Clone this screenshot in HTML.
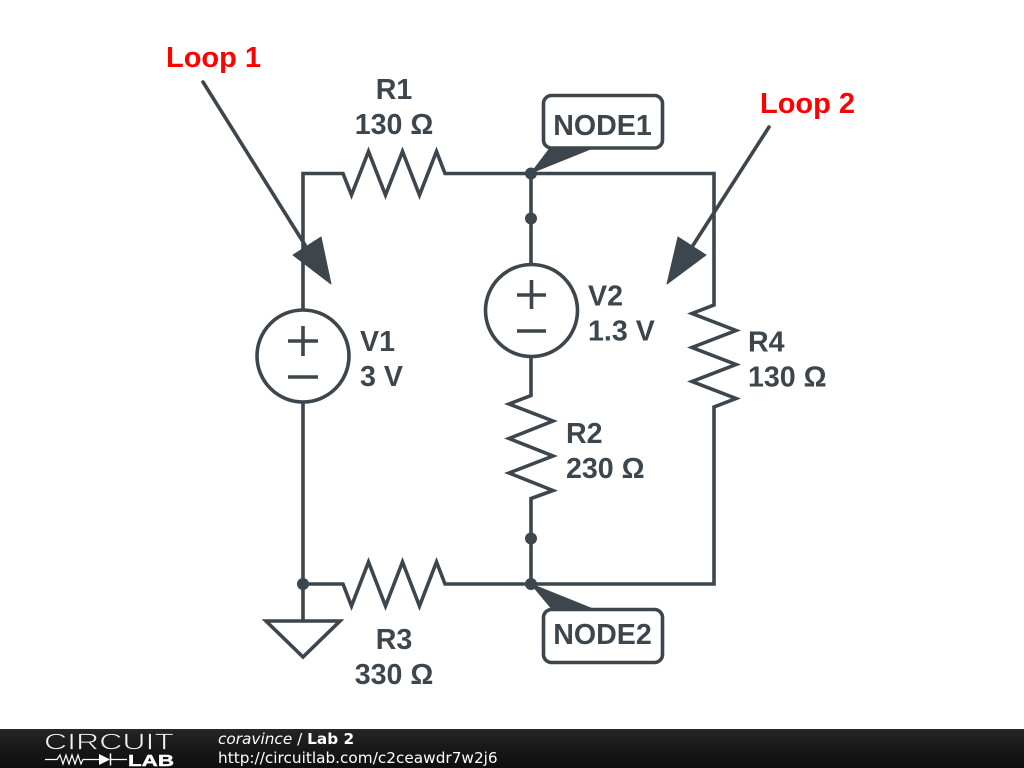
<!DOCTYPE html>
<html>
<head>
<meta charset="utf-8">
<style>
html,body{margin:0;padding:0;background:#fff;}
body{width:1024px;height:768px;overflow:hidden;position:relative;}
svg{position:absolute;left:0;top:0;display:block;}
.t{font-family:"Liberation Sans",sans-serif;font-weight:700;font-size:28.6px;fill:#3d464c;}
.r{font-family:"Liberation Sans",sans-serif;font-weight:700;font-size:29px;fill:#fe0000;}
.f{font-family:"DejaVu Sans",sans-serif;font-size:15.3px;fill:#fff;}
</style>
</head>
<body>
<svg width="1024" height="768" viewBox="0 0 1024 768" xmlns="http://www.w3.org/2000/svg">
<defs>
<linearGradient id="bar" x1="0" y1="0" x2="0" y2="1">
<stop offset="0" stop-color="#262626"/>
<stop offset="0.5" stop-color="#181818"/>
<stop offset="1" stop-color="#0e0e0e"/>
</linearGradient>
</defs>
<rect width="1024" height="768" fill="#fff"/>
<g fill="none" stroke="#3d464c" stroke-width="3.6" stroke-linejoin="miter" stroke-linecap="butt">
<path d="M303 310V173.5H343L351.5 195L368.5 151.5L385.5 195L402.5 151.5L419.5 195L436.5 151.5L445 173.5H714V305L692 313.5L736 330.5L692 347.5L736 364.5L692 381.5L736 398.5L714 407V584H445L436.5 562L419.5 606L402.5 562L385.5 606L368.5 562L351.5 606L343 584H303"/>
<path d="M303 402V621"/>
<path d="M531 173.5V264"/>
<path d="M531 357V395.5L509 404L553 421L509 438.5L553 456L509 473L553 490.5L531 498.5V584"/>
<circle cx="303" cy="356" r="46"/>
<path d="M288 341H318M303 326V356M288 377H318"/>
<circle cx="531.5" cy="310.5" r="46"/>
<path d="M517 295H546M531.5 280V309M517 331H546"/>
<path d="M266 621H340L303 657Z"/>
<rect x="543.5" y="95.5" width="119" height="52.5" rx="8"/>
<rect x="543.5" y="609.5" width="119" height="53" rx="8"/>
<path d="M203 82L305 245" stroke-linecap="round"/>
<path d="M769 127L690 250" stroke-linecap="round"/>
</g>
<g fill="#3d464c" stroke="#3d464c" stroke-width="1" stroke-linejoin="round">
<path d="M293 255L321 237L331 284Z"/>
<path d="M678 237L706 255L667 284Z"/>
<path d="M531 173L550 148H593Z"/>
<path d="M531 584L552 609H593Z"/>
</g>
<g fill="#3d464c">
<circle cx="531" cy="173.5" r="6"/>
<circle cx="531" cy="218.5" r="6"/>
<circle cx="531" cy="538.5" r="6"/>
<circle cx="531" cy="584" r="6"/>
<circle cx="303" cy="584" r="6"/>
</g>
<text class="t" x="394" y="99" text-anchor="middle">R1</text>
<text class="t" x="394" y="134" text-anchor="middle">130 Ω</text>
<text class="t" x="602.5" y="135" text-anchor="middle">NODE1</text>
<text class="t" x="602.5" y="644" text-anchor="middle">NODE2</text>
<text class="t" x="360" y="351">V1</text>
<text class="t" x="360" y="386">3 V</text>
<text class="t" x="588" y="305.5">V2</text>
<text class="t" x="588" y="340.5">1.3 V</text>
<text class="t" x="748" y="351.5">R4</text>
<text class="t" x="748" y="386.5">130 Ω</text>
<text class="t" x="566" y="443">R2</text>
<text class="t" x="566" y="478">230 Ω</text>
<text class="t" x="394" y="649" text-anchor="middle">R3</text>
<text class="t" x="394" y="684" text-anchor="middle">330 Ω</text>
<text class="r" x="166" y="67">Loop 1</text>
<text class="r" x="760" y="113">Loop 2</text>
<rect x="0" y="729" width="1024" height="39" fill="url(#bar)"/>
<text x="44" y="749.5" font-family="'Liberation Sans',sans-serif" font-size="23.5" fill="#f2f2f2" stroke="#1c1c1c" stroke-width="0.7" paint-order="fill" textLength="130" lengthAdjust="spacingAndGlyphs" style="font-weight:400">CIRCUIT</text>
<path d="M45 759.5H57L60 755L63 764L66 755L69 764L72 755L75 764L78 755L81 764L83 759.5H100M110 759.5H127" fill="none" stroke="#fff" stroke-width="1.2"/>
<path d="M99 754V765L110 759.5Z" fill="#fff"/>
<path d="M110.5 753.5V765.5" stroke="#fff" stroke-width="1.5"/>
<text x="128" y="766" font-family="'Liberation Sans',sans-serif" font-size="16" font-weight="700" fill="#fff" stroke="#fff" stroke-width="0.4" textLength="46" lengthAdjust="spacingAndGlyphs">LAB</text>
<text class="f" x="218" y="744"><tspan font-style="italic">coravince</tspan> / <tspan font-weight="700">Lab 2</tspan></text>
<text class="f" x="218" y="763">http://circuitlab.com/c2ceawdr7w2j6</text>
</svg>
</body>
</html>
